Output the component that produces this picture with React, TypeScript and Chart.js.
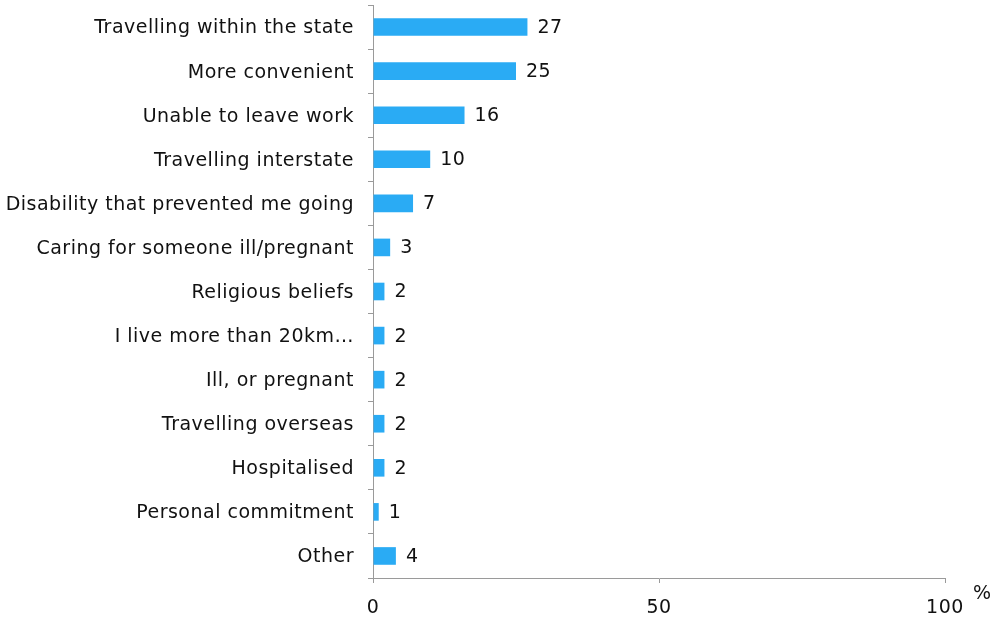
import React, { useEffect, useRef } from "react";
import { Chart, registerables } from "chart.js";

Chart.register(...registerables);

const categories = [
  "Travelling within the state",
  "More convenient",
  "Unable to leave work",
  "Travelling interstate",
  "Disability that prevented me going",
  "Caring for someone ill/pregnant",
  "Religious beliefs",
  "I live more than 20km…",
  "Ill, or pregnant",
  "Travelling overseas",
  "Hospitalised",
  "Personal commitment",
  "Other",
];
const values = [27, 25, 16, 10, 7, 3, 2, 2, 2, 2, 2, 1, 4];
const xTicks = [0, 50, 100];
const unitLabel = "%";

const FONT = "'DejaVu Sans', Verdana, sans-serif";
const SIZE = 19;
const TEXT = "#111111";
const AXIS = "#9a9a9a";
const SPACING = "0.5px";

const spacingPlugin = {
  id: "spacing",
  beforeDraw(chart: any) {
    chart.ctx.letterSpacing = SPACING;
  },
};

const labelPlugin = {
  id: "valueLabels",
  afterDatasetsDraw(chart: any) {
    const ctx = chart.ctx;
    const meta = chart.getDatasetMeta(0);
    ctx.save();
    ctx.letterSpacing = SPACING;
    ctx.font = `${SIZE}px ${FONT}`;
    ctx.fillStyle = TEXT;
    ctx.textAlign = "left";
    ctx.textBaseline = "middle";
    meta.data.forEach((bar: any, i: number) => {
      ctx.fillText(String(values[i]), bar.x + 10, bar.y + 1);
    });
    const xs = chart.scales.x;
    ctx.fillText(unitLabel, xs.right + 28, xs.top + 16);
    ctx.restore();
  },
};

export default function App() {
  const ref = useRef<HTMLCanvasElement>(null);
  useEffect(() => {
    document.body.style.margin = "0";
    const chart = new Chart(ref.current!, {
      type: "bar",
      data: {
        labels: categories,
        datasets: [
          {
            data: values,
            backgroundColor: "#2AABF4",
            borderWidth: 0,
            barPercentage: 0.4,
            categoryPercentage: 1,
          },
        ],
      },
      options: {
        indexAxis: "y",
        animation: false,
        responsive: false,
        maintainAspectRatio: false,
        layout: { padding: { top: 5, right: 49, left: 0, bottom: 0 } },
        plugins: { legend: { display: false }, tooltip: { enabled: false } },
        scales: {
          x: {
            min: 0,
            max: 100,
            afterBuildTicks: (s: any) => {
              s.ticks = xTicks.map((v) => ({ value: v }));
            },
            afterFit: (s: any) => {
              s.height = 617 - 578;
              s.paddingLeft = 0;
              s.paddingRight = 0;
            },
            grid: {
              drawOnChartArea: false,
              drawTicks: true,
              tickLength: 5,
              color: AXIS,
            },
            border: { color: AXIS, width: 1 },
            ticks: {
              color: TEXT,
              font: { family: FONT, size: SIZE },
              padding: 14,
              maxRotation: 0,
            },
          },
          y: {
            afterFit: (s: any) => {
              s.width = 373;
              s.paddingTop = 0;
              s.paddingBottom = 0;
            },
            grid: {
              offset: true,
              drawOnChartArea: false,
              drawTicks: true,
              tickLength: 5,
              color: AXIS,
            },
            border: { color: AXIS, width: 1 },
            ticks: {
              color: TEXT,
              font: { family: FONT, size: SIZE },
              padding: 14,
              labelOffset: 1.5,
              autoSkip: false,
            },
          },
        },
      },
      plugins: [spacingPlugin, labelPlugin],
    });
    return () => chart.destroy();
  }, []);
  return (
    <div style={{ position: "absolute", left: 0, top: 0, width: 994, height: 617 }}>
      <canvas ref={ref} width={994} height={617} />
    </div>
  );
}
